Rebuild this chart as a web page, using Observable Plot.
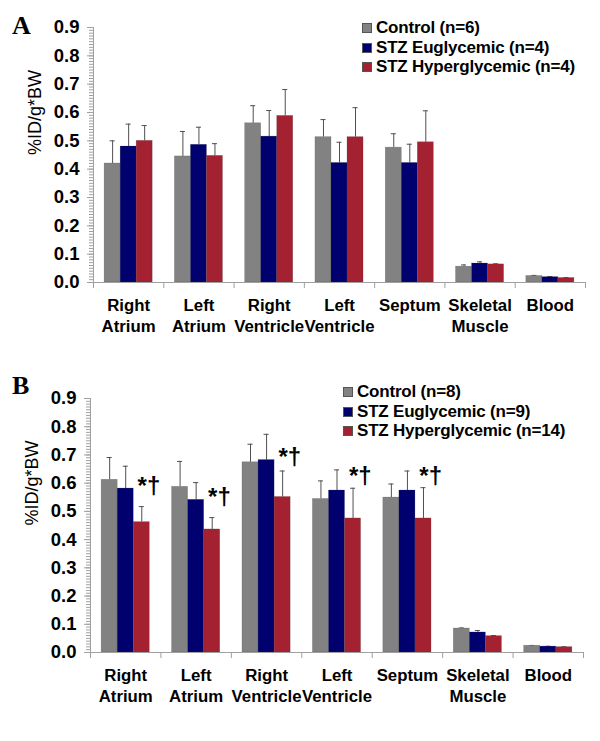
<!DOCTYPE html>
<html>
<head>
<meta charset="utf-8">
<script src="https://cdn.jsdelivr.net/npm/d3@7"></script>
<script src="https://cdn.jsdelivr.net/npm/@observablehq/plot@0.6"></script>
<style>
  body { margin: 0; background: #fff; font-family: "Liberation Sans", Arial, sans-serif; }
  #wrap { position: relative; width: 600px; height: 741px; }
  .panel { position: absolute; left: 0; width: 600px; }
  .letter { position: absolute; font-family: "Liberation Serif", "Times New Roman", serif; font-weight: bold; font-size: 26px; line-height: 26px; }
  .legend { position: absolute; font-weight: bold; font-size: 17px; line-height: 19.5px; white-space: nowrap; letter-spacing: -0.2px; }
  .legend .sw { display: inline-block; width: 10px; height: 10px; margin-right: 4px; vertical-align: 0px; border: 0.5px solid #555; box-sizing: border-box; }
</style>
</head>
<body>
<div id="wrap">
  <div class="panel" id="panelA" style="top:0;height:350px"></div>
  <div class="panel" id="panelB" style="top:350px;height:391px"></div>
  <div class="letter" style="left:12px;top:13px">A</div>
  <div class="letter" style="left:12px;top:373px">B</div>
  <div class="legend" id="legA" style="left:362px;top:18px"></div>
  <div class="legend" id="legB" style="left:343px;top:382px"></div>
</div>
<script>
// tissues, in drawing order
const categories = ["Right\nAtrium", "Left\nAtrium", "Right\nVentricle", "Left\nVentricle", "Septum", "Skeletal\nMuscle", "Blood"]
const colors = ["#828282", "#00006e", "#a32131"]

// panel A  (mean and upper error)
const legendA = ["Control (n=6)", "STZ Euglycemic (n=4)", "STZ Hyperglycemic (n=4)"]
const ctrlA = [0.420, 0.445, 0.562, 0.513, 0.476, 0.056, 0.023]
const ctrlAErr = [0.080, 0.088, 0.062, 0.062, 0.049, 0.006, 0.002]
const euA = [0.480, 0.486, 0.515, 0.422, 0.422, 0.067, 0.019]
const euAErr = [0.079, 0.062, 0.092, 0.073, 0.066, 0.006, 0.002]
const hyA = [0.500, 0.447, 0.588, 0.513, 0.495, 0.064, 0.016]
const hyAErr = [0.054, 0.043, 0.093, 0.104, 0.111, 0.002, 0.001]

// panel B
const legendB = ["Control (n=8)", "STZ Euglycemic (n=9)", "STZ Hyperglycemic (n=14)"]
const ctrlB = [0.612, 0.587, 0.674, 0.544, 0.549, 0.085, 0.024]
const ctrlBErr = [0.079, 0.090, 0.064, 0.064, 0.048, 0.002, 0.001]
const euB = [0.581, 0.541, 0.682, 0.574, 0.574, 0.071, 0.021]
const euBErr = [0.079, 0.061, 0.091, 0.073, 0.069, 0.007, 0.001]
const hyB = [0.462, 0.436, 0.551, 0.475, 0.475, 0.058, 0.019]
const hyBErr = [0.055, 0.042, 0.092, 0.107, 0.109, 0.002, 0.001]

// significance marks in B (category index, height of the mark)
const sigIndex = [0, 1, 2, 3, 4]
const sigY = [0.59, 0.55, 0.69, 0.625, 0.625]

const barStart = 0.158, barW = 0.228, cap = 0.036

function rows(series) {
  let out = []
  series.forEach(([vals, errs], j) => {
    vals.forEach((v, i) => out.push({i, j, value: v, top: v + errs[i]}))
  })
  return out
}

function panel({data, height, marginTop, marginBottom, marginLeft, marginRight, sig}) {
  const left = d => d.i + barStart + d.j * barW
  const mid = d => left(d) + barW / 2
  let marks = [
    Plot.ruleX(data, {x: mid, y1: "value", y2: "top", stroke: "#505050", strokeWidth: 1}),
    Plot.ruleY(data, {y: "top", x1: d => mid(d) - cap, x2: d => mid(d) + cap, stroke: "#505050", strokeWidth: 1}),
    Plot.rectY(data, {x1: left, x2: d => left(d) + barW, y: "value", fill: d => d.j, stroke: "#444", strokeWidth: 0.5, strokeOpacity: 0.4}),
    Plot.ruleY([0], {stroke: "#a0a0a0"}),
    Plot.ruleX([0], {stroke: "#a0a0a0"}),
    Plot.axisX({ticks: d3.range(8), tickSize: 6, tickFormat: () => "", stroke: "#a0a0a0"}),
    Plot.axisY({ticks: d3.range(91).map(k => k / 100), tickSize: 4, tickFormat: () => "", stroke: "#a0a0a0"}),
    Plot.axisY({ticks: d3.range(10).map(k => k / 10), tickSize: 6, tickPadding: 8, tickFormat: d3.format(".1f"),
      stroke: "#a0a0a0", fill: "#000", fontSize: 18.5, fontWeight: "bold"}),
    Plot.text(categories, {x: (d, i) => i + 0.5, frameAnchor: "bottom", lineAnchor: "top", dy: 14,
      fontSize: 16.8, fontWeight: "bold", lineHeight: 1.25, fill: "#000"}),
    Plot.text(["%ID/g*BW"], {frameAnchor: "left", rotate: -90, dx: -58, fontSize: 18, fill: "#000"})
  ]
  if (sig) marks.push(Plot.text(sigIndex, {x: d => d + 0.83, y: (d, k) => sigY[k], text: () => "*†",
    fontSize: 24, fontWeight: "bold", fill: "#000", lineAnchor: "middle"}))
  return Plot.plot({
    width: 600, height, marginTop, marginBottom, marginLeft, marginRight,
    style: {fontFamily: "Liberation Sans, Arial, sans-serif", background: "#fff", overflow: "visible"},
    x: {domain: [0, 7]},
    y: {domain: [0, 0.9]},
    color: {type: "ordinal", domain: [0, 1, 2], range: colors},
    marks
  })
}

function legend(id, labels) {
  d3.select(id).selectAll("div").data(labels).join("div")
    .html((d, j) => `<span class="sw" style="background:${colors[j]}"></span>${d}`)
}

d3.select("#panelA").append(() => panel({
  data: rows([[ctrlA, ctrlAErr], [euA, euAErr], [hyA, hyAErr]]),
  height: 350, marginTop: 27, marginBottom: 68, marginLeft: 93, marginRight: 15
}))
d3.select("#panelB").append(() => panel({
  data: rows([[ctrlB, ctrlBErr], [euB, euBErr], [hyB, hyBErr]]),
  height: 391, marginTop: 48, marginBottom: 89, marginLeft: 90, marginRight: 17, sig: true
}))
legend("#legA", legendA)
legend("#legB", legendB)
</script>
</body>
</html>
